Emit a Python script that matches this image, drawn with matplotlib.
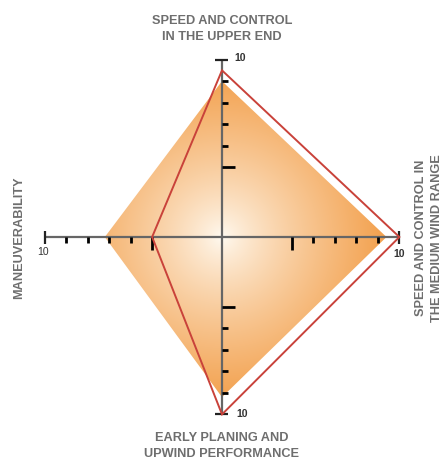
import numpy as np
import matplotlib
matplotlib.use("Agg")
import matplotlib.pyplot as plt
from matplotlib.patches import Polygon

# Axis names (clockwise from the top)
categories = [
    "SPEED AND CONTROL\nIN THE UPPER END",
    "SPEED AND CONTROL IN\nTHE MEDIUM WIND RANGE",
    "EARLY PLANING AND\nUPWIND PERFORMANCE",
    "MANEUVERABILITY",
]
# Filled profile and outlined profile (scale 0-10)
area_values = [9.0, 9.4, 9.2, 7.2]
line_values = [9.5, 10.0, 10.0, 5.0]
tick_values = [5, 6, 7, 8, 9]
max_value = 10
max_label = "10"

# The scale does not start at zero at the hub
r_origin = 1.75
directions = np.array([[0, 1], [1, 0], [0, -1], [-1, 0]], dtype=float)
# side on which the ticks hang for each spoke
tick_side = np.array([[1, 0], [0, -1], [1, 0], [0, -1]], dtype=float)


def to_xy(values):
    r = np.asarray(values, dtype=float) - r_origin
    return directions * r[:, None]


px = 21.5  # pixels per unit
W, H = 445, 462
cx, cy = 222, 237

fig = plt.figure(figsize=(W / 100, H / 100), dpi=100)
ax = fig.add_axes([0, 0, 1, 1])
ax.set_xlim(-cx / px, (W - cx) / px)
ax.set_ylim(-(H - cy) / px, cy / px)
ax.axis("off")

# Gradient-filled diamond
area_xy = to_xy(area_values)
xs = np.linspace(-cx / px, (W - cx) / px, 600)
ys = np.linspace(-(H - cy) / px, cy / px, 600)
X, Y = np.meshgrid(xs, ys)
t = np.clip(np.hypot(X, Y) / 7.4, 0, 1) ** 0.8
c0 = np.array([255, 251, 243]) / 255
c1 = np.array([243, 163, 82]) / 255
img = c0 + (c1 - c0) * t[..., None]
im = ax.imshow(img, extent=(xs[0], xs[-1], ys[0], ys[-1]), origin="lower",
               zorder=1, interpolation="bilinear")
clip = Polygon(area_xy, closed=True, transform=ax.transData, facecolor="none",
               edgecolor="none")
ax.add_patch(clip)
im.set_clip_path(clip)

# Spokes
rmax = max_value - r_origin
for d in directions:
    ax.plot([0, d[0] * rmax], [0, d[1] * rmax], color="#666666", lw=1.6,
            zorder=3, solid_capstyle="butt")

# Ticks
long_len, short_len, cap_len = 13 / px, 6 / px, 13 / px
for d, s in zip(directions, tick_side):
    for v in tick_values:
        p = d * (v - r_origin)
        L = long_len if v == tick_values[0] else short_len
        ax.plot([p[0], p[0] + s[0] * L], [p[1], p[1] + s[1] * L],
                color="black", lw=2.0, zorder=3, solid_capstyle="butt")
    p = d * rmax
    perp = np.array([d[1], d[0]])
    ax.plot([p[0] - perp[0] * cap_len / 2, p[0] + perp[0] * cap_len / 2],
            [p[1] - perp[1] * cap_len / 2, p[1] + perp[1] * cap_len / 2],
            color="#222222", lw=1.6, zorder=3, solid_capstyle="butt")

# Outlined profile
line_xy = to_xy(line_values)
ax.add_patch(Polygon(line_xy, closed=True, facecolor="none",
                     edgecolor="#c9423a", lw=1.4, zorder=4, joinstyle="miter"))

# End labels
lab_kw = dict(fontsize=7.5, color="#333333", family="Liberation Sans",
              fontweight="bold")
ax.text(18 / px, rmax + 2 / px, max_label, ha="center", va="center", **lab_kw)
ax.text(rmax, -17 / px, max_label, ha="center", va="center", **lab_kw)
ax.text(20 / px, -rmax, max_label, ha="center", va="center", **lab_kw)
ax.text(-rmax - 2 / px, -15 / px, max_label, ha="center", va="center",
        **dict(lab_kw, fontweight="normal"))

# Category labels
cat_kw = dict(fontsize=9.2, color="#6e6e6e", family="Liberation Sans",
              fontweight="bold", linespacing=1.35, ha="center", va="center")
ax.text(0, (cy - 29) / px, categories[0], **cat_kw)
ax.text((429 - cx) / px, (cy - 238) / px, categories[1], rotation=90, **cat_kw)
ax.text(0, (cy - 446) / px, categories[2], **cat_kw)
ax.text((19 - cx) / px, (cy - 238) / px, categories[3], rotation=90, **cat_kw)

fig.savefig("out.png", dpi=100)
